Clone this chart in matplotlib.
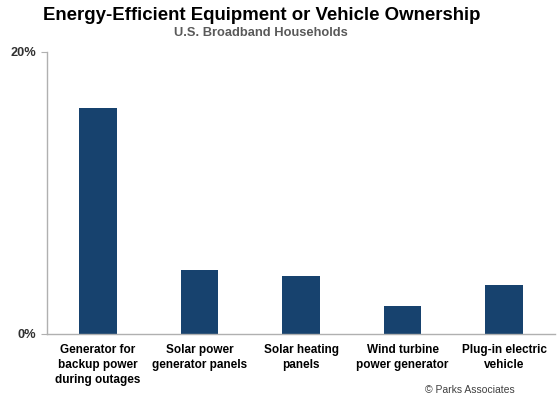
import matplotlib
matplotlib.use("Agg")
import matplotlib.pyplot as plt
from matplotlib.ticker import FuncFormatter

# values (% of U.S. broadband households)
categories = [
    "Generator for\nbackup power\nduring outages",
    "Solar power\ngenerator panels",
    "Solar heating\npanels",
    "Wind turbine\npower generator",
    "Plug-in electric\nvehicle",
]
ownership_pct = [16.0, 4.5, 4.1, 2.0, 3.5]
y_ticks = [0, 20]

plt.rcParams["font.family"] = ["Liberation Sans", "DejaVu Sans"]

fig = plt.figure(figsize=(5.6, 3.99), dpi=100)
ax = fig.add_axes([0.084, 0.163, 0.907, 0.707])

ax.bar(range(len(categories)), ownership_pct, width=0.37, color="#17426e")

ax.set_xlim(-0.5, len(categories) - 0.5)
ax.set_ylim(0, 20)
ax.set_yticks(y_ticks)
ax.yaxis.set_major_formatter(FuncFormatter(lambda v, _: f"{v:.0f}%"))
ax.set_xticks(range(len(categories)))
ax.set_xticklabels(categories, fontsize=8.5, fontweight="bold", linespacing=1.35)

for side in ("top", "right"):
    ax.spines[side].set_visible(False)
for side in ("left", "bottom"):
    ax.spines[side].set_color("#b0b0b0")
    ax.spines[side].set_linewidth(1.0)

ax.tick_params(axis="x", length=0, pad=7, colors="black")
ax.tick_params(axis="y", length=4, color="#b0b0b0", labelsize=9.2,
               labelcolor="#303030", pad=4)
for lbl in ax.get_yticklabels():
    lbl.set_fontweight("bold")

fig.text(0.468, 0.962, "Energy-Efficient Equipment or Vehicle Ownership",
         ha="center", va="center", fontsize=13.4, fontweight="bold", color="black")
fig.text(0.466, 0.918, "U.S. Broadband Households",
         ha="center", va="center", fontsize=9.3, fontweight="bold", color="#595959")
fig.text(0.92, 0.022, "\u00a9 Parks Associates", ha="right", va="center",
         fontsize=7.5, color="#404040")

fig.savefig("out.png", dpi=100)
